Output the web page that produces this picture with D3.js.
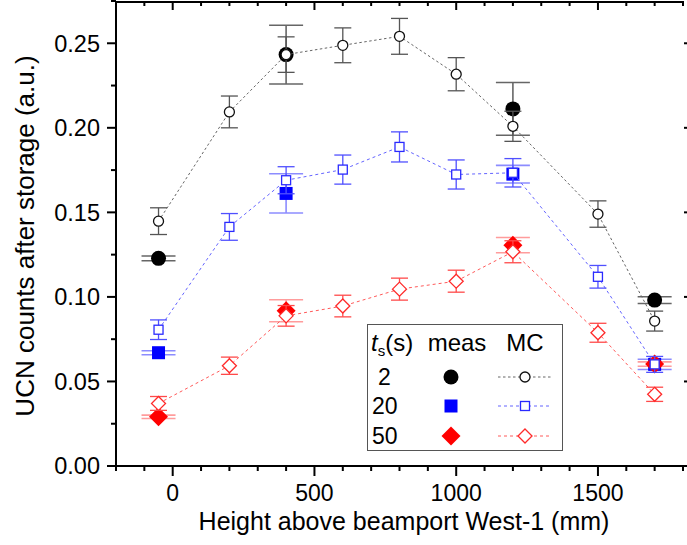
<!DOCTYPE html>
<html><head><meta charset="utf-8">
<script src="https://cdn.jsdelivr.net/npm/d3@7/dist/d3.min.js"></script>
<style>
html,body{margin:0;padding:0;background:#fff;}
svg{display:block;font-family:"Liberation Sans",Arial,sans-serif;}
</style></head>
<body>
<svg id="chart" width="687" height="545"></svg>
<script>
// ---- data ----
const mcX = [-50, 200, 400, 600, 800, 1000, 1200, 1500, 1700];
const mc2 = [0.1448, 0.2094, 0.2433, 0.2488, 0.2541, 0.2317, 0.2009, 0.1490, 0.0857];
const mc2Err = [0.0079, 0.0094, 0.0105, 0.0103, 0.0106, 0.0098, 0.0089, 0.0078, 0.0059];
const mc20 = [0.0806, 0.1414, 0.1690, 0.1753, 0.1887, 0.1724, 0.1734, 0.1119, 0.0601];
const mc20Err = [0.0058, 0.0079, 0.0080, 0.0086, 0.0089, 0.0086, 0.0084, 0.0067, 0.0047];
const mc50 = [0.0370, 0.0593, 0.0888, 0.0946, 0.1046, 0.1093, 0.1267, 0.0788, 0.0424];
const mc50Err = [0.0041, 0.0051, 0.0061, 0.0064, 0.0065, 0.0065, 0.0065, 0.0056, 0.0042];

const measX = [-50, 400, 1200, 1700];
const meas2 = [0.1228, 0.2433, 0.2112, 0.0981];
const meas2Err = [0.0014, 0.0174, 0.0156, 0.0020];
const meas20 = [0.0670, 0.1612, 0.1726, 0.0601];
const meas20Err = [0.0012, 0.0116, 0.0052, 0.0030];
const meas50 = [0.0291, 0.0918, 0.1306, 0.0603];
const meas50Err = [0.0010, 0.0065, 0.0045, 0.0013];

const seriesNames = ["2", "20", "50"];
const xTicks = [0, 500, 1000, 1500];
const yTicks = [0, 0.05, 0.10, 0.15, 0.20, 0.25];
const xTitle = "Height above beamport West-1 (mm)";
const yTitle = "UCN counts after storage (a.u.)";

// ---- setup ----
const svg = d3.select("#chart");
const L = 116, R = 683, T = 1, B = 466;
const x = d3.scaleLinear().domain([-200, 1800]).range([L, R]);
const y = d3.scaleLinear().domain([0, 0.275]).range([B, T]);

const styles = [
  {shape: "circle", fill: "#000", stroke: "#111", mcErr: "#555", measErr: "#666", line: "#666", dash: "2.5,2.5"},
  {shape: "square", fill: "#0000ff", stroke: "#2a2aff", mcErr: "#5050ff", measErr: "#8c8cff", line: "#6464ff", dash: "3,3"},
  {shape: "diamond", fill: "#ff0000", stroke: "#ff2a2a", mcErr: "#ff4a4a", measErr: "#ff9c9c", line: "#ff5a5a", dash: "3,3"}
];
const mcData = [[mc2, mc2Err], [mc20, mc20Err], [mc50, mc50Err]];
const measData = [[meas2, meas2Err], [meas20, meas20Err], [meas50, meas50Err]];

function marker(g, shape, cx, cy, big, fill, stroke, sw) {
  if (shape === "circle") {
    g.append("circle").attr("cx", cx).attr("cy", cy).attr("r", big ? 7.5 : 5)
      .attr("fill", fill).attr("stroke", stroke).attr("stroke-width", sw);
  } else if (shape === "square") {
    const s = big ? 13 : 9;
    g.append("rect").attr("x", cx - s / 2).attr("y", cy - s / 2).attr("width", s).attr("height", s)
      .attr("fill", fill).attr("stroke", stroke).attr("stroke-width", sw);
  } else {
    const h = big ? 9.5 : 7;
    g.append("path").attr("d", `M${cx},${cy - h}L${cx + h},${cy}L${cx},${cy + h}L${cx - h},${cy}Z`)
      .attr("fill", fill).attr("stroke", stroke).attr("stroke-width", sw);
  }
}

function errBar(g, xv, yv, e, cap, color, sw) {
  const cx = x(xv), y1 = y(yv + e), y2 = y(yv - e);
  g.append("line").attr("x1", cx).attr("x2", cx).attr("y1", y1).attr("y2", y2)
    .attr("stroke", color).attr("stroke-width", sw);
  [y1, y2].forEach(yy => g.append("line").attr("x1", cx - cap / 2).attr("x2", cx + cap / 2)
    .attr("y1", yy).attr("y2", yy).attr("stroke", color).attr("stroke-width", sw));
}

const plot = svg.append("g");

// measured error bars and markers
measData.forEach(([vals, errs], i) => {
  const st = styles[i];
  const g = plot.append("g");
  vals.forEach((v, j) => errBar(g, measX[j], v, errs[j], 34, st.measErr, 1.6));
});
measData.forEach(([vals, errs], i) => {
  const st = styles[i];
  const g = plot.append("g");
  vals.forEach((v, j) => marker(g, st.shape, x(measX[j]), y(v), true, st.fill, st.fill, 0));
});

// MC lines, error bars, markers
mcData.forEach(([vals, errs], i) => {
  const st = styles[i];
  const g = plot.append("g");
  g.append("path").datum(vals)
    .attr("d", d3.line().x((d, j) => x(mcX[j])).y(d => y(d)))
    .attr("fill", "none").attr("stroke", st.line).attr("stroke-width", 1)
    .attr("stroke-dasharray", st.dash);
});
mcData.forEach(([vals, errs], i) => {
  const st = styles[i];
  const g = plot.append("g");
  vals.forEach((v, j) => errBar(g, mcX[j], v, errs[j], 17, st.mcErr, 1.3));
});
mcData.forEach(([vals, errs], i) => {
  const st = styles[i];
  const g = plot.append("g");
  vals.forEach((v, j) => marker(g, st.shape, x(mcX[j]), y(v), false, "#fff", st.stroke, 1.3));
});

// ---- axes ----
const ax = svg.append("g").attr("stroke", "#000");
ax.append("line").attr("x1", L).attr("x2", L).attr("y1", T).attr("y2", B + 1).attr("stroke-width", 2);
ax.append("line").attr("x1", L - 1).attr("x2", 687).attr("y1", B).attr("y2", B).attr("stroke-width", 2);
ax.append("line").attr("x1", L - 1).attr("x2", 684).attr("y1", T + 1).attr("y2", T + 1).attr("stroke-width", 2);

const yMinor = d3.range(0, 0.2751, 0.025);
yMinor.forEach((v, k) => {
  const major = k % 2 === 0;
  ax.append("line").attr("x1", L - (major ? 9 : 5)).attr("x2", L).attr("y1", y(v)).attr("y2", y(v)).attr("stroke-width", 2);
  if (major) ax.append("line").attr("x1", 684).attr("x2", 687).attr("y1", y(v)).attr("y2", y(v)).attr("stroke-width", 2);
});
const xMinor = d3.range(-200, 1801, 100);
xMinor.forEach(v => {
  const major = v % 500 === 0;
  ax.append("line").attr("x1", x(v)).attr("x2", x(v)).attr("y1", B).attr("y2", B + (major ? 10 : 5)).attr("stroke-width", 2);
  ax.append("line").attr("x1", x(v)).attr("x2", x(v)).attr("y1", T).attr("y2", T + (major ? 9 : 5)).attr("stroke-width", 2);
});

svg.append("g").selectAll("text").data(yTicks).join("text")
  .attr("x", 100).attr("y", d => y(d)).attr("dy", "0.36em")
  .attr("text-anchor", "end").attr("font-size", 23.5).attr("fill", "#000")
  .text(d => d3.format(".2f")(d));
svg.append("g").selectAll("text").data(xTicks).join("text")
  .attr("x", d => x(d)).attr("y", 501)
  .attr("text-anchor", "middle").attr("font-size", 23).attr("fill", "#000")
  .text(d => d);

svg.append("text").attr("x", 404).attr("y", 530).attr("text-anchor", "middle")
  .attr("font-size", 25).attr("fill", "#000").text(xTitle);
svg.append("text").attr("transform", "translate(34,236) rotate(-90)").attr("text-anchor", "middle")
  .attr("font-size", 26).attr("fill", "#000").text(yTitle);

// ---- legend ----
const lg = svg.append("g");
lg.append("rect").attr("x", 367.5).attr("y", 324.5).attr("width", 195).attr("height", 126)
  .attr("fill", "#fff").attr("stroke", "#555").attr("stroke-width", 1);
const hdr = lg.append("text").attr("x", 371).attr("y", 351).attr("font-size", 24).attr("fill", "#000");
hdr.append("tspan").attr("font-style", "italic").text("t");
hdr.append("tspan").attr("font-size", 15).attr("dy", 5).text("s");
hdr.append("tspan").attr("dy", -5).text("(s)");
lg.append("text").attr("x", 457).attr("y", 351).attr("text-anchor", "middle").attr("font-size", 24).text("meas");
lg.append("text").attr("x", 525).attr("y", 351).attr("text-anchor", "middle").attr("font-size", 24).text("MC");
const rowY = [377, 406, 436];
const rowX = [378, 372, 372];
seriesNames.forEach((n, i) => {
  const st = styles[i];
  lg.append("text").attr("x", rowX[i]).attr("y", rowY[i] + 8).attr("font-size", 23).text(n);
  marker(lg, st.shape, 451, rowY[i], true, st.fill, st.fill, 0);
  lg.append("line").attr("x1", 498).attr("x2", 552).attr("y1", rowY[i]).attr("y2", rowY[i])
    .attr("stroke", st.line).attr("stroke-width", 1).attr("stroke-dasharray", st.dash);
  marker(lg, st.shape, 525, rowY[i], false, "#fff", st.stroke, 1.3);
});
</script>
</body></html>
